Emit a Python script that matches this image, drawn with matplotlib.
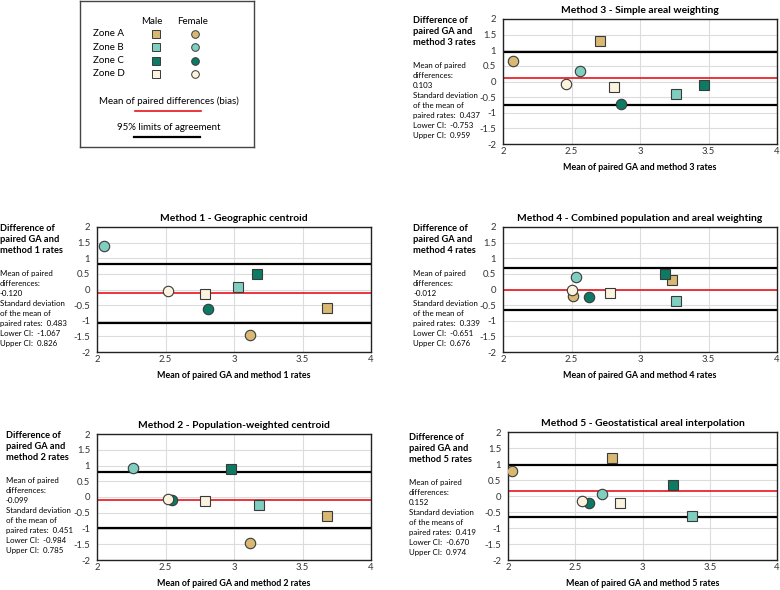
import numpy as np
import matplotlib.pyplot as plt

plt.rcParams['font.family'] = ['Lato', 'DejaVu Sans']

W, H = 780, 590

zones = ["Zone A", "Zone B", "Zone C", "Zone D"]
zone_colors = ["#D8B873", "#80CEC0", "#0D7A63", "#FCF3DE"]

# method 1 - geographic centroid
m1_male_x = [3.68, 3.03, 3.17, 2.79]
m1_male_y = [-0.60, 0.09, 0.50, -0.13]
m1_female_x = [3.12, 2.05, 2.81, 2.52]
m1_female_y = [-1.44, 1.38, -0.61, -0.06]
m1_stats = [-0.120, 0.483, -1.067, 0.826]

# method 2 - population-weighted centroid
m2_male_x = [3.68, 3.18, 2.98, 2.79]
m2_male_y = [-0.61, -0.24, 0.88, -0.14]
m2_female_x = [3.12, 2.26, 2.55, 2.52]
m2_female_y = [-1.45, 0.93, -0.11, -0.06]
m2_stats = [-0.099, 0.451, -0.984, 0.785]

# method 3 - simple areal weighting
m3_male_x = [2.71, 3.26, 3.47, 2.81]
m3_male_y = [1.31, -0.40, -0.12, -0.18]
m3_female_x = [2.07, 2.56, 2.86, 2.46]
m3_female_y = [0.66, 0.34, -0.72, -0.085]
m3_stats = [0.103, 0.437, -0.753, 0.959]

# method 4 - combined population and areal weighting
m4_male_x = [3.23, 3.26, 3.18, 2.78]
m4_male_y = [0.30, -0.37, 0.49, -0.11]
m4_female_x = [2.51, 2.53, 2.63, 2.50]
m4_female_y = [-0.21, 0.41, -0.24, -0.03]
m4_stats = [-0.012, 0.339, -0.651, 0.676]

# method 5 - geostatistical areal interpolation
m5_male_x = [2.77, 3.37, 3.23, 2.83]
m5_male_y = [1.20, -0.61, 0.35, -0.23]
m5_female_x = [2.03, 2.70, 2.60, 2.55]
m5_female_y = [0.77, 0.06, -0.21, -0.15]
m5_stats = [0.152, 0.419, -0.670, 0.974]

titles = ["Method 1 - Geographic centroid",
          "Method 2 - Population-weighted centroid",
          "Method 3 - Simple areal weighting",
          "Method 4 - Combined population and areal weighting",
          "Method 5 - Geostatistical areal interpolation"]


def box(l, r, t, b):
    return [l / W, 1 - b / H, (r - l) / W, (b - t) / H]


def ftext(x, y, s, **kw):
    fig.text(x / W, 1 - y / H, s, **kw)


fig = plt.figure(figsize=(W / 100, H / 100), dpi=100)


def bland_altman(rect, num, mx, my, fx, fy, stats, text_x, text_y, sd_word="mean"):
    ax = fig.add_axes(box(*rect))
    bias, sd, lo, hi = stats
    ax.set_xlim(2, 4)
    ax.set_ylim(-2, 2)
    ax.set_xticks(np.arange(2, 4.01, 0.5))
    ax.set_yticks(np.arange(-2, 2.01, 0.5))
    ax.set_xticklabels(["2", "2.5", "3", "3.5", "4"])
    ax.set_yticklabels(["-2", "-1.5", "-1", "-0.5", "0", "0.5", "1", "1.5", "2"])
    ax.grid(True, color="#DCDCDC", lw=0.8)
    ax.set_axisbelow(True)
    ax.tick_params(length=0, labelsize=6.8, colors="#333333")
    ax.tick_params(axis="y", pad=5)
    ax.tick_params(axis="x", pad=2.5)
    for sp in ax.spines.values():
        sp.set_color("#222222")
        sp.set_linewidth(1.0)
    ax.axhline(bias, color="#E8141B", lw=1.2, zorder=2)
    ax.axhline(hi, color="black", lw=1.6, zorder=2)
    ax.axhline(lo, color="black", lw=1.6, zorder=2)
    for i in range(4):
        ax.plot(mx[i], my[i], "s", ms=7.5, mfc=zone_colors[i], mec="#3A3A3A", mew=0.8, zorder=3)
    for i in range(4):
        ax.plot(fx[i], fy[i], "o", ms=7.5, mfc=zone_colors[i], mec="#3A3A3A", mew=0.8, zorder=3)
    ax.set_title(titles[num - 1], fontsize=7.4, fontweight="bold", pad=4)
    ax.set_xlabel("Mean of paired GA and method %d rates" % num, fontsize=6.4,
                  fontweight="bold", labelpad=4.5)
    ftext(text_x, text_y, "Difference of\npaired GA and\nmethod %d rates" % num,
          fontsize=6.7, fontweight="bold", va="top", linespacing=1.28)
    ftext(text_x, text_y + 46,
          "Mean of paired\ndifferences:\n%.3f\nStandard deviation\nof the %s of\n"
          "paired rates:  %.3f\nLower CI:  %.3f\nUpper CI:  %.3f"
          % (bias, sd_word, sd, lo, hi),
          fontsize=5.7, va="top", linespacing=1.5)
    return ax


bland_altman((97, 371, 227, 352), 1, m1_male_x, m1_male_y, m1_female_x, m1_female_y,
             m1_stats, 0, 224)
bland_altman((97, 371, 434, 560), 2, m2_male_x, m2_male_y, m2_female_x, m2_female_y,
             m2_stats, 6, 431)
bland_altman((503, 777, 19, 144), 3, m3_male_x, m3_male_y, m3_female_x, m3_female_y,
             m3_stats, 413, 16)
bland_altman((503, 777, 227, 352), 4, m4_male_x, m4_male_y, m4_female_x, m4_female_y,
             m4_stats, 413, 224)
bland_altman((508, 777, 432, 560), 5, m5_male_x, m5_male_y, m5_female_x, m5_female_y,
             m5_stats, 409, 433, sd_word="means")

# legend box
lg = fig.add_axes(box(80, 254, 1, 147))
lg.set_xlim(80, 254)
lg.set_ylim(147, 1)
lg.set_xticks([])
lg.set_yticks([])
for sp in lg.spines.values():
    sp.set_color("#444444")
    sp.set_linewidth(1.0)
lg.text(152, 21, "Male", ha="center", va="center", fontsize=7)
lg.text(193, 21, "Female", ha="center", va="center", fontsize=7)
for i, z in enumerate(zones):
    yy = 34 + i * 13.3
    lg.text(93, yy, z, ha="left", va="center", fontsize=7)
    lg.plot(156, yy, "s", ms=5.5, mfc=zone_colors[i], mec="#3A3A3A", mew=0.7)
    lg.plot(195, yy, "o", ms=5.5, mfc=zone_colors[i], mec="#3A3A3A", mew=0.7)
lg.text(169, 101, "Mean of paired differences (bias)", ha="center", va="center", fontsize=7)
lg.plot([135, 201], [111, 111], color="#E8141B", lw=1.2)
lg.text(169, 127, "95% limits of agreement", ha="center", va="center", fontsize=7)
lg.plot([134, 200], [137, 137], color="black", lw=1.6)

fig.savefig("out.png", dpi=100)
